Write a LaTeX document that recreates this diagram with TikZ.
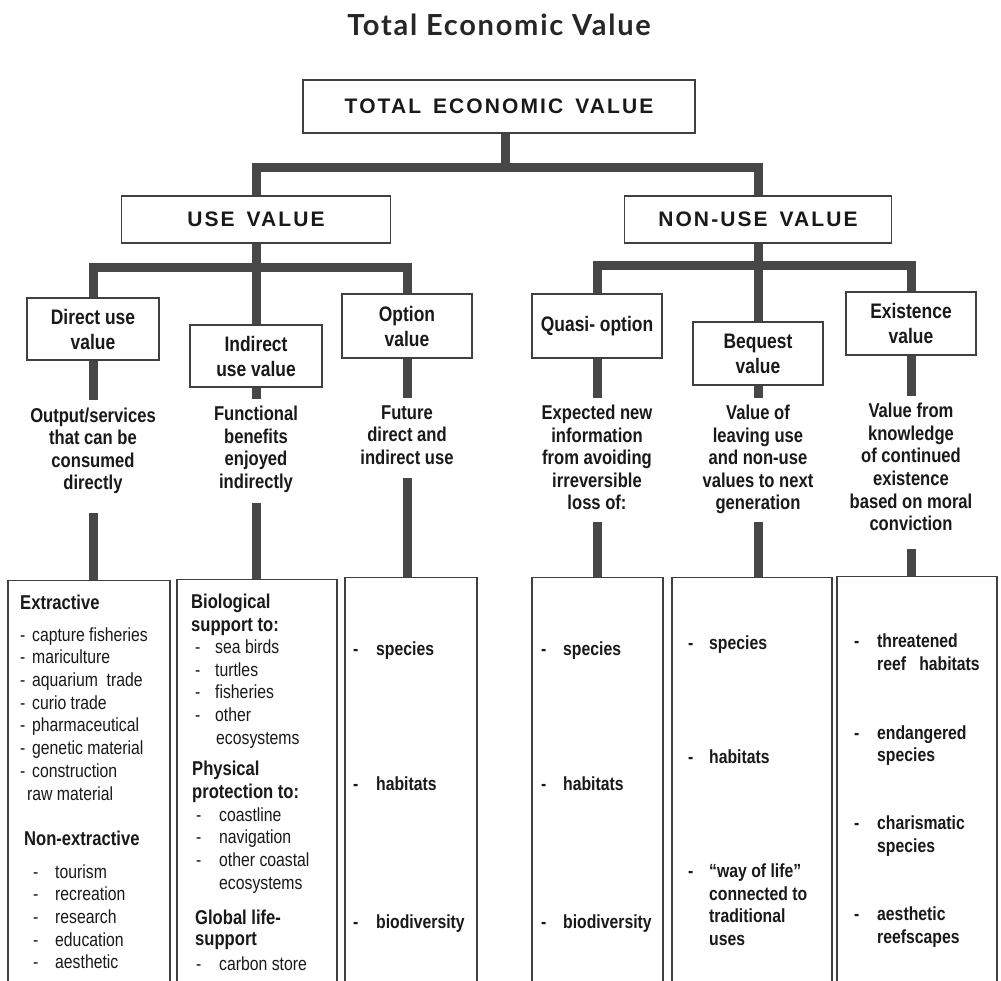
\documentclass[tikz,border=0pt]{standalone}
\usepackage{fontspec}
\setmainfont{Liberation Sans}[FakeStretch=0.83]
\newfontfamily\tevfont{Liberation Sans}[FakeStretch=1.0,LetterSpace=10]
\newfontfamily\titlefont{Lato}[LetterSpace=6]
\newcommand\dsh[1]{\makebox[#1pt][l]{-}}
\tikzset{
  boxline/.style={draw=black!75, line width=1.3pt, fill=white},
  topbox/.style={boxline, inner sep=0pt, text=black!90, font=\tevfont\bfseries\fontsize{21}{25}\selectfont},
  catbox/.style={boxline, inner sep=0pt, align=center, text=black!90, font=\bfseries\fontsize{21}{25}\selectfont},
  desc/.style={anchor=north, inner sep=0pt, outer ysep=8pt, align=center, text=black!90, font=\bfseries\fontsize{20}{22.5}\selectfont},
  bbox/.style={draw=black!75, line width=1.3pt, anchor=north, inner sep=0pt, minimum height=430pt},
  itm/.style={anchor=base west, inner sep=0pt, text=black!90, font=\fontsize{19}{22}\selectfont},
  bitm/.style={itm, font=\bfseries\fontsize{19}{22}\selectfont},
  hd/.style={itm, font=\bfseries\fontsize{20}{22}\selectfont},
  conn/.style={draw=black!72, line width=9pt, line join=miter, line cap=butt}
}
\begin{document}
\begin{tikzpicture}[x={(1pt,0pt)}, y={(0pt,-1pt)}]
\useasboundingbox (0,0) rectangle (1001,980);
\clip (0,0) rectangle (1001,980);
\fill[white] (0,0) rectangle (1001,980);

% title
\node[anchor=base, inner sep=0pt, text=black!85, font=\titlefont\bfseries\fontsize{29}{31}\selectfont] (title) at (499,35) {Total Economic Value};

% top levels
\node[topbox, minimum width=392pt, minimum height=53pt] (tev) at (499,106.5) {TOTAL\hspace{4pt} ECONOMIC\hspace{4pt} VALUE};
\node[topbox, minimum width=269pt, minimum height=47pt] (use) at (256,219.5) {USE\hspace{4pt} VALUE};
\node[topbox, minimum width=267pt, minimum height=47pt] (nonuse) at (758,219.5) {NON-USE\hspace{4pt} VALUE};

\coordinate (j1) at (505,167);
\coordinate (j2) at (256,267);
\coordinate (j3) at (758,265);

% category boxes
\node[catbox, minimum width=132pt, minimum height=62pt] (dbox) at (93,329) {Direct use\\value};
\node[catbox, minimum width=132pt, minimum height=62pt] (ibox) at (256,356) {Indirect\\use value};
\node[catbox, minimum width=130pt, minimum height=64pt] (obox) at (407,326) {Option\\value};
\node[catbox, minimum width=130pt, minimum height=64pt] (qbox) at (597,326) {Quasi- option};
\node[catbox, minimum width=130pt, minimum height=63pt] (bqbox) at (758,353.5) {Bequest\\value};
\node[catbox, minimum width=130pt, minimum height=63pt] (exbox) at (911,323.5) {Existence\\value};

% descriptions
\node[desc] (ddesc) at (93,400) {Output/services\\that can be\\consumed\\directly};
\node[desc] (idesc) at (256,398.5) {Functional\\benefits\\enjoyed\\indirectly};
\node[desc] (odesc) at (407,397.5) {Future\\direct and\\indirect use};
\node[desc] (qdesc) at (597,397.5) {Expected new\\information\\from avoiding\\irreversible\\loss of:};
\node[desc] (bdesc) at (758,397.5) {Value of\\leaving use\\and non-use\\values to next\\generation};
\node[desc] (edesc) at (911,395.5) {Value from\\knowledge\\of continued\\existence\\based on moral\\conviction};

% bottom boxes
\node[bbox, minimum width=162pt] (b1) at (89,580) {};
\node[bbox, minimum width=160pt] (b2) at (257,579) {};
\node[bbox, minimum width=132pt] (b3) at (411,577) {};
\node[bbox, minimum width=131pt] (b4) at (597.5,577) {};
\node[bbox, minimum width=160pt] (b5) at (752,577) {};
\node[bbox, minimum width=160pt] (b6) at (917,576) {};

% connectors
\draw[conn] (tev.south -| j1) -- (j1);
\draw[conn] (use.north) |- (j1) -| (nonuse.north);
\draw[conn] (use.south) -- (ibox.north);
\draw[conn] (dbox.north) |- (j2) -| (obox.north);
\draw[conn] (nonuse.south) -- (bqbox.north);
\draw[conn] (qbox.north) |- (j3) -| (exbox.north);
\draw[conn] (dbox.south) -- (ddesc.north);
\draw[conn] (ibox.south) -- (idesc.north);
\draw[conn] (obox.south) -- (odesc.north);
\draw[conn] (qbox.south) -- (qdesc.north);
\draw[conn] (bqbox.south) -- (bdesc.north);
\draw[conn] (exbox.south) -- (edesc.north);
\draw[conn] ([yshift=-11pt]ddesc.south) -- (ddesc.south |- b1.north);
\draw[conn] ([yshift=-2pt]idesc.south) -- (idesc.south |- b2.north);
\draw[conn] ([yshift=-6pt]odesc.south) -- (odesc.south |- b3.north);
\draw[conn] ([yshift=-4pt]qdesc.south) -- (qdesc.south |- b4.north);
\draw[conn] (bdesc.south) -- (bdesc.south |- b5.north);
\draw[conn] ([yshift=-10pt]edesc.south) -- (edesc.south |- b6.north);

% box 1
\node[hd] (e0) at (20,609) {Extractive};
\node[itm] (e1) at (20,641) {\dsh{12}capture fisheries};
\node[itm] (e2) at (20,663) {\dsh{12}mariculture};
\node[itm] (e3) at (20,686) {\dsh{12}aquarium\ \ trade};
\node[itm] (e4) at (20,709) {\dsh{12}curio trade};
\node[itm] (e5) at (20,731) {\dsh{12}pharmaceutical};
\node[itm] (e6) at (20,754) {\dsh{12}genetic material};
\node[itm] (e7) at (20,777) {\dsh{12}construction};
\node[itm] (e8) at (27,800) {raw material};
\node[hd] (n0) at (24,845) {Non-extractive};
\node[itm] (n1) at (33,878) {\dsh{22}tourism};
\node[itm] (n2) at (33,900) {\dsh{22}recreation};
\node[itm] (n3) at (33,923) {\dsh{22}research};
\node[itm] (n4) at (33,946) {\dsh{22}education};
\node[itm] (n5) at (33,968) {\dsh{22}aesthetic};

% box 2
\node[hd] (g0) at (191,608) {Biological};
\node[hd] (g1) at (191,631) {support to:};
\node[itm] (g2) at (195,653) {\dsh{20}sea birds};
\node[itm] (g3) at (195,676) {\dsh{20}turtles};
\node[itm] (g4) at (195,698) {\dsh{20}fisheries};
\node[itm] (g5) at (195,721) {\dsh{20}other};
\node[itm] (g6) at (216,744) {ecosystems};
\node[hd] (p0) at (192,775) {Physical};
\node[hd] (p1) at (192,798) {protection to:};
\node[itm] (p2) at (196,821) {\dsh{23}coastline};
\node[itm] (p3) at (196,843) {\dsh{23}navigation};
\node[itm] (p4) at (196,866) {\dsh{23}other coastal};
\node[itm] (p5) at (219,889) {ecosystems};
\node[hd] (l0) at (195,924) {Global life-};
\node[hd] (l1) at (195,945) {support};
\node[itm] (l2) at (196,970) {\dsh{23}carbon store};

% box 3
\node[bitm] (o1) at (353,655) {\dsh{23}species};
\node[bitm] (o2) at (353,790) {\dsh{23}habitats};
\node[bitm] (o3) at (353,928) {\dsh{23}biodiversity};

% box 4
\node[bitm] (q1) at (541,655) {\dsh{22}species};
\node[bitm] (q2) at (541,790) {\dsh{22}habitats};
\node[bitm] (q3) at (541,928) {\dsh{22}biodiversity};

% box 5
\node[bitm] (w1) at (688,649) {\dsh{21}species};
\node[bitm] (w2) at (688,763) {\dsh{21}habitats};
\node[bitm] (w3) at (688,877) {\dsh{21}“way of life”};
\node[bitm] (w4) at (709,900) {connected to};
\node[bitm] (w5) at (709,922) {traditional};
\node[bitm] (w6) at (709,945) {uses};

% box 6
\node[bitm] (x1) at (854,647) {\dsh{23}threatened};
\node[bitm] (x2) at (877,670) {reef\ \ \ habitats};
\node[bitm] (x3) at (854,739) {\dsh{23}endangered};
\node[bitm] (x4) at (877,761) {species};
\node[bitm] (x5) at (854,829) {\dsh{23}charismatic};
\node[bitm] (x6) at (877,852) {species};
\node[bitm] (x7) at (854,920) {\dsh{23}aesthetic};
\node[bitm] (x8) at (877,943) {reefscapes};
\end{tikzpicture}
\end{document}
